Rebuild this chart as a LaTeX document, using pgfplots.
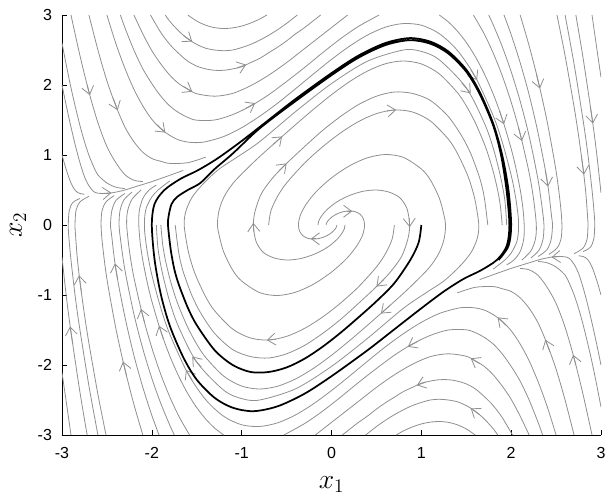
\documentclass[border=0pt]{standalone}
\usepackage{pgfplots}
\pgfplotsset{compat=1.18}
\usepackage{fontspec}
\setmainfont{Liberation Sans}
\usetikzlibrary{arrows.meta,calc}
\definecolor{sl}{gray}{0.56}
\tikzset{
 sline/.style={sl, line width=0.6pt, smooth},
 bline/.style={black, line width=1.3pt, smooth},
 arw/.style={sl, line width=0.6pt, -{Straight Barb[length=6pt,width=9pt]}},
}
\begin{document}
\begin{tikzpicture}
\begin{axis}[
  scale only axis, width=404.25pt, height=315pt,
  xmin=-3,xmax=3,ymin=-3,ymax=3,
  axis x line*=bottom, axis y line*=left,
  xtick={-3,-2,...,3}, ytick={-3,-2,...,3},
  tick align=inside, major tick length=4pt,
  every tick/.style={black,line width=0.5pt},
  axis line style={black,line width=0.5pt},
  tick label style={font=\fontsize{12}{14}\selectfont},
  xticklabel style={yshift=-6pt},
  yticklabel style={xshift=-4pt},
  /pgf/number format/assume math mode=true,
  xlabel={$x_1$}, ylabel={$x_2$},
  every axis x label/.style={at={(axis description cs:0.5,0)},anchor=center,yshift=-37pt,font=\fontsize{20}{24}\selectfont},
  every axis y label/.style={at={(axis description cs:0,0.5)},anchor=center,xshift=-33pt,rotate=90,font=\fontsize{20}{24}\selectfont},
  clip=true,
]
% ---------------- top-left family and mirrors
\addplot[sline] coordinates {(-2.9,3.0) (-2.8,2.42) (-2.7,1.9) (-2.6,1.46) (-2.5,1.12) (-2.4,0.89) (-2.3,0.72) (-2.2,0.64) (-2.1,0.62)};
\addplot[sline] coordinates {(2.9,-3.0) (2.8,-2.42) (2.7,-1.9) (2.6,-1.46) (2.5,-1.12) (2.4,-0.89) (2.3,-0.72) (2.2,-0.64) (2.1,-0.62)};
\addplot[sline] coordinates {(-3.0,2.0) (-2.95,1.69) (-2.9,1.40) (-2.85,1.13) (-2.8,0.89) (-2.75,0.69) (-2.7,0.56) (-2.65,0.48) (-2.6,0.455) (-2.5,0.45) (-2.4,0.47) (-2.3,0.5) (-2.2,0.54) (-2.0,0.62) (-1.8,0.71) (-1.65,0.78)};
\addplot[sline] coordinates {(3.0,-2.0) (2.95,-1.69) (2.9,-1.40) (2.85,-1.13) (2.8,-0.89) (2.75,-0.69) (2.7,-0.56) (2.65,-0.48) (2.6,-0.455) (2.5,-0.45) (2.4,-0.47) (2.3,-0.5) (2.2,-0.54) (2.0,-0.62) (1.8,-0.71) (1.65,-0.78)};
\addplot[sline] coordinates {(-3.0,2.6) (-2.95,2.27) (-2.9,1.96) (-2.85,1.68) (-2.8,1.42) (-2.75,1.19) (-2.7,0.995) (-2.65,0.84) (-2.6,0.715) (-2.5,0.6) (-2.4,0.54) (-2.3,0.52)};
\addplot[sline] coordinates {(3.0,-2.6) (2.95,-2.27) (2.9,-1.96) (2.85,-1.68) (2.8,-1.42) (2.75,-1.19) (2.7,-0.995) (2.65,-0.84) (2.6,-0.715) (2.5,-0.6) (2.4,-0.54) (2.3,-0.52)};
\addplot[sline] coordinates {(-3.0,1.0) (-2.95,0.78) (-2.9,0.6) (-2.85,0.49) (-2.8,0.45) (-2.75,0.44)};
\addplot[sline] coordinates {(3.0,-1.0) (2.95,-0.78) (2.9,-0.6) (2.85,-0.49) (2.8,-0.45) (2.75,-0.44)};
\addplot[sline] coordinates {(-2.7,3.0) (-2.6,2.5) (-2.5,2.06) (-2.4,1.70) (-2.3,1.40) (-2.2,1.19) (-2.1,1.04) (-2.0,0.95) (-1.9,0.91) (-1.8,0.88) (-1.6,0.89) (-1.4,0.97)};
\addplot[sline] coordinates {(2.7,-3.0) (2.6,-2.5) (2.5,-2.06) (2.4,-1.70) (2.3,-1.40) (2.2,-1.19) (2.1,-1.04) (2.0,-0.95) (1.9,-0.91) (1.8,-0.88) (1.6,-0.89) (1.4,-0.97)};
\addplot[sline] coordinates {(-2.5,3.0) (-2.4,2.59) (-2.3,2.24) (-2.2,1.94) (-2.1,1.70) (-2.0,1.51) (-1.9,1.375) (-1.8,1.28) (-1.7,1.215) (-1.6,1.185) (-1.5,1.177) (-1.4,1.19) (-1.2,1.264) (-1.0,1.39) (-0.8,1.553) (-0.6,1.74) (-0.4,1.947) (-0.2,2.159) (0,2.365) (0.2,2.554) (0.4,2.713) (0.6,2.826) (0.8,2.878) (1.0,2.854) (1.2,2.733) (1.4,2.496) (1.6,2.118) (1.8,1.56) (1.9,1.188) (2.0,0.712) (2.05,0.39) (2.08,0.09) (2.08,-0.1) (2.06,-0.25) (2.0,-0.4) (1.93,-0.5) (1.8,-0.63)};
\addplot[sline] coordinates {(2.5,-3.0) (2.4,-2.59) (2.3,-2.24) (2.2,-1.94) (2.1,-1.70) (2.0,-1.51) (1.9,-1.375) (1.8,-1.28) (1.7,-1.215) (1.6,-1.185) (1.5,-1.177) (1.4,-1.19) (1.2,-1.264) (1.0,-1.39) (0.8,-1.553) (0.6,-1.74) (0.4,-1.947) (0.2,-2.159) (0,-2.365) (-0.2,-2.554) (-0.4,-2.713) (-0.6,-2.826) (-0.8,-2.878) (-1.0,-2.854) (-1.2,-2.733) (-1.4,-2.496) (-1.6,-2.118) (-1.8,-1.56) (-1.9,-1.188) (-2.0,-0.712) (-2.05,-0.39) (-2.08,-0.09) (-2.08,0.1) (-2.06,0.25) (-2.0,0.4) (-1.93,0.5) (-1.8,0.63)};
\addplot[sline] coordinates {(-2.35,3.0) (-2.3,2.82) (-2.2,2.50) (-2.1,2.23) (-2.0,2.02) (-1.9,1.84) (-1.8,1.70) (-1.7,1.605) (-1.6,1.537) (-1.5,1.497) (-1.3,1.50) (-1.1,1.577) (-0.9,1.70) (-0.7,1.86) (-0.5,2.05) (-0.3,2.25) (-0.1,2.46) (0.1,2.66) (0.3,2.837) (0.53,3.0)};
\addplot[sline] coordinates {(2.35,-3.0) (2.3,-2.82) (2.2,-2.50) (2.1,-2.23) (2.0,-2.02) (1.9,-1.84) (1.8,-1.70) (1.7,-1.605) (1.6,-1.537) (1.5,-1.497) (1.3,-1.50) (1.1,-1.577) (0.9,-1.70) (0.7,-1.86) (0.5,-2.05) (0.3,-2.25) (0.1,-2.46) (-0.1,-2.66) (-0.3,-2.837) (-0.53,-3.0)};
\addplot[sline] coordinates {(-2.2,3.0) (-2.1,2.73) (-2.0,2.49) (-1.9,2.30) (-1.8,2.14) (-1.7,2.02) (-1.6,1.94) (-1.5,1.875) (-1.3,1.84) (-1.1,1.88) (-0.9,1.99) (-0.7,2.14) (-0.5,2.32) (-0.3,2.52) (-0.1,2.72) (0.1,2.92) (0.18,3.0)};
\addplot[sline] coordinates {(2.2,-3.0) (2.1,-2.73) (2.0,-2.49) (1.9,-2.30) (1.8,-2.14) (1.7,-2.02) (1.6,-1.94) (1.5,-1.875) (1.3,-1.84) (1.1,-1.88) (0.9,-1.99) (0.7,-2.14) (0.5,-2.32) (0.3,-2.52) (0.1,-2.72) (-0.1,-2.92) (-0.18,-3.0)};
\addplot[sline] coordinates {(-2.015,3.0) (-1.9,2.75) (-1.8,2.58) (-1.7,2.45) (-1.6,2.34) (-1.5,2.27) (-1.4,2.23) (-1.3,2.21) (-1.2,2.21) (-1.1,2.23) (-1.0,2.26) (-0.9,2.32) (-0.8,2.38) (-0.7,2.46) (-0.6,2.54) (-0.5,2.63) (-0.4,2.73) (-0.3,2.82) (-0.2,2.92) (-0.12,3.0)};
\addplot[sline] coordinates {(2.015,-3.0) (1.9,-2.75) (1.8,-2.58) (1.7,-2.45) (1.6,-2.34) (1.5,-2.27) (1.4,-2.23) (1.3,-2.21) (1.2,-2.21) (1.1,-2.23) (1.0,-2.26) (0.9,-2.32) (0.8,-2.38) (0.7,-2.46) (0.6,-2.54) (0.5,-2.63) (0.4,-2.73) (0.3,-2.82) (0.2,-2.92) (0.12,-3.0)};
\addplot[sline] coordinates {(-1.85,3.0) (-1.8,2.91) (-1.7,2.77) (-1.6,2.66) (-1.5,2.58) (-1.4,2.525) (-1.3,2.50) (-1.2,2.49) (-1.1,2.50) (-1.0,2.535) (-0.9,2.58) (-0.8,2.64) (-0.7,2.71) (-0.6,2.79) (-0.5,2.88) (-0.4,2.98) (-0.38,3.0)};
\addplot[sline] coordinates {(1.85,-3.0) (1.8,-2.91) (1.7,-2.77) (1.6,-2.66) (1.5,-2.58) (1.4,-2.525) (1.3,-2.50) (1.2,-2.49) (1.1,-2.50) (1.0,-2.535) (0.9,-2.58) (0.8,-2.64) (0.7,-2.71) (0.6,-2.79) (0.5,-2.88) (0.4,-2.98) (0.38,-3.0)};
\addplot[sline] coordinates {(-1.6,3.0) (-1.5,2.913) (-1.4,2.854) (-1.3,2.819) (-1.2,2.807) (-1.1,2.816) (-1.0,2.842) (-0.9,2.885) (-0.8,2.942) (-0.72,3.0)};
\addplot[sline] coordinates {(1.6,-3.0) (1.5,-2.913) (1.4,-2.854) (1.3,-2.819) (1.2,-2.807) (1.1,-2.816) (1.0,-2.842) (0.9,-2.885) (0.8,-2.942) (0.72,-3.0)};
% ---------------- top-right family and mirrors
\addplot[sline] coordinates {(1.2,3.0) (1.3,2.902) (1.4,2.772) (1.5,2.609) (1.6,2.408) (1.7,2.163) (1.8,1.871) (1.9,1.52) (2.0,1.089) (2.05,0.827) (2.1,0.509) (2.13,0.246) (2.145,0) (2.14,-0.2) (2.1,-0.38) (2.03,-0.5) (1.95,-0.57)};
\addplot[sline] coordinates {(-1.2,-3.0) (-1.3,-2.902) (-1.4,-2.772) (-1.5,-2.609) (-1.6,-2.408) (-1.7,-2.163) (-1.8,-1.871) (-1.9,-1.52) (-2.0,-1.089) (-2.05,-0.827) (-2.1,-0.509) (-2.13,-0.246) (-2.145,0) (-2.14,0.2) (-2.1,0.38) (-2.03,0.5) (-1.95,0.57)};
\addplot[sline] coordinates {(1.58,3.0) (1.7,2.73) (1.8,2.456) (1.9,2.135) (2.0,1.755) (2.1,1.303) (2.2,0.746) (2.25,0.363) (2.28,0) (2.27,-0.2) (2.22,-0.37) (2.12,-0.5)};
\addplot[sline] coordinates {(-1.58,-3.0) (-1.7,-2.73) (-1.8,-2.456) (-1.9,-2.135) (-2.0,-1.755) (-2.1,-1.303) (-2.2,-0.746) (-2.25,-0.363) (-2.28,0) (-2.27,0.2) (-2.22,0.37) (-2.12,0.5)};
\addplot[sline] coordinates {(1.75,3.0) (1.8,2.86) (1.9,2.55) (2.0,2.19) (2.1,1.77) (2.2,1.27) (2.3,0.64) (2.35,0.19) (2.365,0) (2.355,-0.2) (2.31,-0.36) (2.22,-0.47)};
\addplot[sline] coordinates {(-1.75,-3.0) (-1.8,-2.86) (-1.9,-2.55) (-2.0,-2.19) (-2.1,-1.77) (-2.2,-1.27) (-2.3,-0.64) (-2.35,-0.19) (-2.365,0) (-2.355,0.2) (-2.31,0.36) (-2.22,0.47)};
\addplot[sline] coordinates {(1.92,3.0) (2.0,2.72) (2.1,2.32) (2.2,1.86) (2.3,1.31) (2.4,0.64) (2.45,0.12) (2.46,0) (2.446,-0.2) (2.40,-0.35) (2.30,-0.45)};
\addplot[sline] coordinates {(-1.92,-3.0) (-2.0,-2.72) (-2.1,-2.32) (-2.2,-1.86) (-2.3,-1.31) (-2.4,-0.64) (-2.45,-0.12) (-2.46,0) (-2.446,0.2) (-2.40,0.35) (-2.30,0.45)};
\addplot[sline] coordinates {(2.1,3.0) (2.2,2.56) (2.3,2.06) (2.4,1.48) (2.5,0.77) (2.55,0.27) (2.565,0) (2.555,-0.2) (2.51,-0.33) (2.42,-0.42)};
\addplot[sline] coordinates {(-2.1,-3.0) (-2.2,-2.56) (-2.3,-2.06) (-2.4,-1.48) (-2.5,-0.77) (-2.55,-0.27) (-2.565,0) (-2.555,0.2) (-2.51,0.33) (-2.42,0.42)};
\addplot[sline] coordinates {(2.51,3.0) (2.6,2.42) (2.7,1.69) (2.75,1.28) (2.8,0.81) (2.83,0.47) (2.85,0.13) (2.855,0) (2.845,-0.2) (2.80,-0.33) (2.70,-0.41)};
\addplot[sline] coordinates {(-2.51,-3.0) (-2.6,-2.42) (-2.7,-1.69) (-2.75,-1.28) (-2.8,-0.81) (-2.83,-0.47) (-2.85,-0.13) (-2.855,0) (-2.845,0.2) (-2.80,0.33) (-2.70,0.41)};
\addplot[sline] coordinates {(2.6,3.0) (2.7,2.30) (2.8,1.50) (2.85,1.05) (2.9,0.50) (2.925,0.15) (2.93,0) (2.92,-0.2) (2.88,-0.32) (2.8,-0.38)};
\addplot[sline] coordinates {(-2.6,-3.0) (-2.7,-2.30) (-2.8,-1.50) (-2.85,-1.05) (-2.9,-0.50) (-2.925,-0.15) (-2.93,0) (-2.92,0.2) (-2.88,0.32) (-2.8,0.38)};
\addplot[sline] coordinates {(2.72,3.0) (2.8,2.39) (2.9,1.53) (2.95,1.04) (3.0,0.46)};
\addplot[sline] coordinates {(-2.72,-3.0) (-2.8,-2.39) (-2.9,-1.53) (-2.95,-1.04) (-3.0,-0.46)};
\addplot[sline] coordinates {(2.9,3.0) (2.95,2.55) (3.0,2.11)};
\addplot[sline] coordinates {(-2.9,-3.0) (-2.95,-2.55) (-3.0,-2.11)};
% ---------------- inner spirals
\addplot[sline] coordinates {(0.06,0) (0.057,-0.021) (0.047,-0.047) (0.028,-0.077) (0,-0.11) (-0.038,-0.143) (-0.086,-0.172) (-0.141,-0.193) (-0.201,-0.201) (-0.261,-0.191) (-0.314,-0.157) (-0.353,-0.095) (-0.368,0) (-0.35,0.13) (-0.287,0.287) (-0.173,0.473) (0,0.673) (0.2,0.845) (0.4,0.96) (0.6,1.007) (0.8,0.966) (1.0,0.80) (1.1,0.645) (1.2,0.385) (1.25,0.15) (1.27,0) (1.253,-0.2) (1.197,-0.4) (1.094,-0.6) (0.944,-0.8) (0.8,-0.977) (0.6,-1.207) (0.4,-1.433) (0.2,-1.653) (0,-1.861) (-0.2,-2.047) (-0.4,-2.199) (-0.6,-2.303) (-0.8,-2.343) (-1.0,-2.301) (-1.2,-2.159) (-1.4,-1.893) (-1.5,-1.703) (-1.6,-1.463) (-1.7,-1.163) (-1.75,-0.98) (-1.8,-0.765) (-1.85,-0.495) (-1.88,-0.27) (-1.9,0)};
\addplot[sline] coordinates {(-0.06,0) (-0.057,0.021) (-0.047,0.047) (-0.028,0.077) (0,0.11) (0.038,0.143) (0.086,0.172) (0.141,0.193) (0.201,0.201) (0.261,0.191) (0.314,0.157) (0.353,0.095) (0.368,0) (0.35,-0.13) (0.287,-0.287) (0.173,-0.473) (0,-0.673) (-0.2,-0.845) (-0.4,-0.96) (-0.6,-1.007) (-0.8,-0.966) (-1.0,-0.80) (-1.1,-0.645) (-1.2,-0.385) (-1.25,-0.15) (-1.27,0) (-1.253,0.2) (-1.197,0.4) (-1.094,0.6) (-0.944,0.8) (-0.8,0.977) (-0.6,1.207) (-0.4,1.433) (-0.2,1.653) (0,1.861) (0.2,2.047) (0.4,2.199) (0.6,2.303) (0.8,2.343) (1.0,2.301) (1.2,2.159) (1.4,1.893) (1.5,1.703) (1.6,1.463) (1.7,1.163) (1.75,0.98) (1.8,0.765) (1.85,0.495) (1.88,0.27) (1.9,0)};
\addplot[sline] coordinates {(0.15,0) (0.143,-0.053) (0.117,-0.117) (0.071,-0.193) (0,-0.275) (-0.095,-0.357) (-0.215,-0.429) (-0.353,-0.482) (-0.50,-0.50) (-0.64,-0.47) (-0.76,-0.39) (-0.84,-0.235) (-0.87,0) (-0.85,0.2) (-0.78,0.45) (-0.65,0.68) (-0.5,0.88) (-0.3,1.12) (-0.1,1.35) (0.1,1.55) (0.3,1.72) (0.5,1.84) (0.7,1.90) (0.9,1.88) (1.1,1.78) (1.3,1.55) (1.45,1.27) (1.55,1.02) (1.65,0.67) (1.7,0.4) (1.74,0)};
\addplot[sline] coordinates {(-0.15,0) (-0.143,0.053) (-0.117,0.117) (-0.071,0.193) (0,0.275) (0.095,0.357) (0.215,0.429) (0.353,0.482) (0.50,0.50) (0.64,0.47) (0.76,0.39) (0.84,0.235) (0.87,0) (0.85,-0.2) (0.78,-0.45) (0.65,-0.68) (0.5,-0.88) (0.3,-1.12) (0.1,-1.35) (-0.1,-1.55) (-0.3,-1.72) (-0.5,-1.84) (-0.7,-1.90) (-0.9,-1.88) (-1.1,-1.78) (-1.3,-1.55) (-1.45,-1.27) (-1.55,-1.02) (-1.65,-0.67) (-1.7,-0.4) (-1.74,0)};
\addplot[sline] coordinates {(0.7,0) (0.675,-0.2) (0.605,-0.4) (0.5,-0.6) (0.3,-0.884) (0.1,-1.116) (-0.1,-1.315) (-0.3,-1.477) (-0.5,-1.591) (-0.7,-1.643) (-0.9,-1.615) (-1.1,-1.487) (-1.3,-1.227) (-1.4,-1.027) (-1.5,-0.757) (-1.55,-0.582) (-1.6,-0.342) (-1.64,0) (-1.62,0.2) (-1.55,0.4) (-1.42,0.6) (-1.25,0.8) (-1.05,0.97) (-0.8,1.19) (-0.4,1.62) (0,2.02) (0.4,2.34) (0.8,2.50) (1.0,2.48) (1.2,2.36) (1.5,1.96) (1.7,1.46) (1.8,1.1) (1.88,0.7) (1.93,0.35) (1.95,0)};
\addplot[sline] coordinates {(-0.7,0) (-0.675,0.2) (-0.605,0.4) (-0.5,0.6) (-0.3,0.884) (-0.1,1.116) (0.1,1.315) (0.3,1.477) (0.5,1.591) (0.7,1.643) (0.9,1.615) (1.1,1.487) (1.3,1.227) (1.4,1.027) (1.5,0.757) (1.55,0.582) (1.6,0.342) (1.64,0) (1.62,-0.2) (1.55,-0.4) (1.42,-0.6) (1.25,-0.8) (1.05,-0.97) (0.8,-1.19) (0.4,-1.62) (0,-2.02) (-0.4,-2.34) (-0.8,-2.50) (-1.0,-2.48) (-1.2,-2.36) (-1.5,-1.96) (-1.7,-1.46) (-1.8,-1.1) (-1.88,-0.7) (-1.93,-0.35) (-1.95,0)};
% ---------------- arrowheads along the streamlines
\addplot[arw] coordinates {(-2.72,2.005) (-2.69,1.855)};
\addplot[arw] coordinates {(2.72,-2.005) (2.69,-1.855)};
\addplot[arw] coordinates {(-2.55,0.45) (-2.45,0.46)};
\addplot[arw] coordinates {(2.55,-0.45) (2.45,-0.46)};
\addplot[arw] coordinates {(-2.43,1.81) (-2.38,1.64)};
\addplot[arw] coordinates {(2.43,-1.81) (2.38,-1.64)};
\addplot[arw] coordinates {(-1.95,1.44) (-1.85,1.32)};
\addplot[arw] coordinates {(1.95,-1.44) (1.85,-1.32)};
\addplot[arw] coordinates {(1.55,2.22) (1.62,2.07)};
\addplot[arw] coordinates {(-1.55,-2.22) (-1.62,-2.07)};
\addplot[arw] coordinates {(-0.95,1.67) (-0.85,1.74)};
\addplot[arw] coordinates {(0.95,-1.67) (0.85,-1.74)};
\addplot[arw] coordinates {(-1.65,1.98) (-1.55,1.905)};
\addplot[arw] coordinates {(1.65,-1.98) (1.55,-1.905)};
\addplot[arw] coordinates {(-1.05,2.245) (-0.95,2.29)};
\addplot[arw] coordinates {(1.05,-2.245) (0.95,-2.29)};
\addplot[arw] coordinates {(-1.65,2.71) (-1.55,2.62)};
\addplot[arw] coordinates {(1.65,-2.71) (1.55,-2.62)};
\addplot[arw] coordinates {(1.87,1.63) (1.92,1.44)};
\addplot[arw] coordinates {(-1.87,-1.63) (-1.92,-1.44)};
\addplot[arw] coordinates {(2.08,1.4) (2.12,1.2)};
\addplot[arw] coordinates {(-2.08,-1.4) (-2.12,-1.2)};
\addplot[arw] coordinates {(2.38,0.78) (2.41,0.55)};
\addplot[arw] coordinates {(-2.38,-0.78) (-2.41,-0.55)};
\addplot[arw] coordinates {(2.28,2.16) (2.32,1.95)};
\addplot[arw] coordinates {(-2.28,-2.16) (-2.32,-1.95)};
\addplot[arw] coordinates {(2.785,0.95) (2.81,0.72)};
\addplot[arw] coordinates {(-2.785,-0.95) (-2.81,-0.72)};
\addplot[arw] coordinates {(2.88,1.70) (2.91,1.45)};
\addplot[arw] coordinates {(-2.88,-1.70) (-2.91,-1.45)};
\addplot[arw] coordinates {(-0.17,-0.197) (-0.23,-0.197)};
\addplot[arw] coordinates {(0.17,0.197) (0.23,0.197)};
\addplot[arw] coordinates {(0.65,-1.15) (0.55,-1.265)};
\addplot[arw] coordinates {(-0.65,1.15) (-0.55,1.265)};
\addplot[arw] coordinates {(-0.58,0.78) (-0.5,0.88)};
\addplot[arw] coordinates {(0.58,-0.78) (0.5,-0.88)};
\addplot[arw] coordinates {(0.865,0.1) (0.87,-0.03)};
\addplot[arw] coordinates {(-0.865,-0.1) (-0.87,0.03)};
\addplot[arw] coordinates {(-0.62,-1.63) (-0.72,-1.645)};
\addplot[arw] coordinates {(0.62,1.63) (0.72,1.645)};
\addplot[arw] coordinates {(1.45,2.03) (1.55,1.88)};
\addplot[arw] coordinates {(-1.45,-2.03) (-1.55,-1.88)};
% ---------------- black trajectory
\addplot[bline] coordinates {(1,0) (0.97,-0.25) (0.877,-0.5) (0.7,-0.83) (0.5,-1.09) (0.3,-1.32) (0.1,-1.54) (-0.1,-1.74) (-0.3,-1.91) (-0.5,-2.035) (-0.7,-2.10) (-0.9,-2.10) (-1.1,-2.0) (-1.3,-1.79) (-1.5,-1.43) (-1.6,-1.18) (-1.7,-0.85) (-1.75,-0.63) (-1.79,-0.35) (-1.82,0) (-1.81,0.15) (-1.78,0.3) (-1.72,0.4) (-1.6,0.5) (-1.46,0.6) (-1.3,0.8) (-1.1,1.02) (-0.8,1.38) (-0.4,1.77) (0,2.14) (0.3,2.39) (0.6,2.57) (0.87,2.64) (1.1,2.59) (1.3,2.45) (1.5,2.19) (1.65,1.87) (1.8,1.42) (1.89,0.98) (1.95,0.48) (1.98,0) (1.95,-0.3) (1.84,-0.5) (1.66,-0.65) (1.47,-0.77) (1.25,-0.95) (1.0,-1.19) (0.7,-1.49) (0.4,-1.79) (0,-2.16) (-0.3,-2.41) (-0.6,-2.59) (-0.87,-2.66) (-1.1,-2.61) (-1.3,-2.47) (-1.5,-2.21) (-1.65,-1.89) (-1.8,-1.44) (-1.9,-0.99) (-1.97,-0.49) (-2.0,0) (-1.97,0.3) (-1.86,0.5) (-1.68,0.66) (-1.49,0.78) (-1.27,0.95) (-1.0,1.2) (-0.7,1.5) (-0.4,1.8) (0,2.17) (0.3,2.42) (0.6,2.6) (0.87,2.67) (1.1,2.62) (1.3,2.48) (1.5,2.22) (1.65,1.9) (1.8,1.45) (1.9,1.0) (1.97,0.5) (2.0,0) (1.97,-0.3) (1.86,-0.5)};
\end{axis}
\pgfresetboundingbox
\path ($(current axis.south west)+(-46.5pt,-48pt)$) rectangle ($(current axis.north east)+(9.75pt,11.25pt)$);
\end{tikzpicture}
\end{document}
